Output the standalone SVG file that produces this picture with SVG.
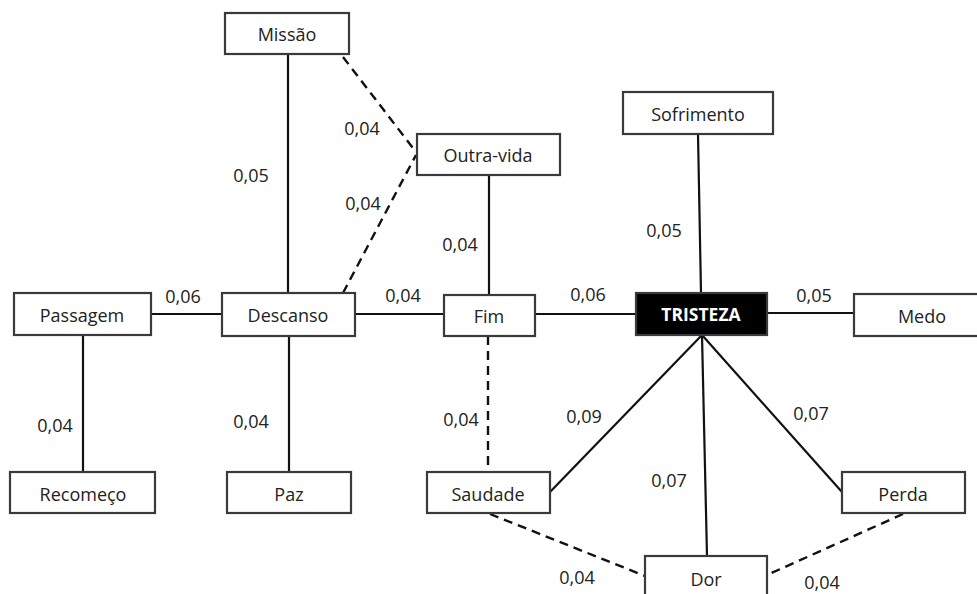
<svg xmlns="http://www.w3.org/2000/svg" width="977" height="594" viewBox="0 0 977 594">
<style>
.box{fill:#fff;stroke:#3a3a3a;stroke-width:2.2}
.dark{fill:#000;stroke:#3a3a3a;stroke-width:2.2}
.t{font-family:"Open Sans","Liberation Sans",sans-serif;font-size:18px;fill:#222;text-anchor:middle;dominant-baseline:central}
.tb{font-family:"Open Sans","Liberation Sans",sans-serif;font-size:17.5px;font-weight:bold;fill:#fff;text-anchor:middle;dominant-baseline:central}
.l{font-family:"Open Sans","Liberation Sans",sans-serif;font-size:18px;fill:#222;text-anchor:middle;dominant-baseline:central}
.s{stroke:#111;stroke-width:2.2;fill:none}
.d{stroke:#111;stroke-width:2.4;fill:none;stroke-dasharray:9 6}
</style>
<rect width="977" height="594" fill="#fff"/>
<g id="connectors">
<line class="s" x1="288" y1="54" x2="288" y2="293"/>
<line class="d" x1="343" y1="57" x2="416" y2="152"/>
<line class="d" x1="343" y1="293" x2="416" y2="155"/>
<line class="s" x1="489" y1="175" x2="489" y2="296"/>
<line class="s" x1="698" y1="134" x2="701" y2="293"/>
<line class="s" x1="151" y1="314" x2="222" y2="314"/>
<line class="s" x1="355" y1="314" x2="444" y2="314"/>
<line class="s" x1="535" y1="314" x2="636" y2="314"/>
<line class="s" x1="767" y1="313" x2="854" y2="313"/>
<line class="s" x1="83" y1="335" x2="83" y2="472"/>
<line class="s" x1="289" y1="336" x2="289" y2="472"/>
<line class="d" x1="488" y1="336" x2="488" y2="472"/>
<line class="s" x1="702" y1="335" x2="550" y2="492"/>
<line class="s" x1="702" y1="335" x2="707" y2="556"/>
<line class="s" x1="702" y1="335" x2="842" y2="492"/>
<line class="d" x1="490" y1="514" x2="645" y2="576"/>
<line class="d" x1="903" y1="514" x2="767" y2="575"/>
</g>
<g id="labels">
<text class="l" x="362" y="128">0,04</text>
<text class="l" x="251" y="175">0,05</text>
<text class="l" x="363" y="203">0,04</text>
<text class="l" x="460" y="244">0,04</text>
<text class="l" x="183" y="296">0,06</text>
<text class="l" x="403" y="295">0,04</text>
<text class="l" x="588" y="294">0,06</text>
<text class="l" x="664" y="230">0,05</text>
<text class="l" x="814" y="295">0,05</text>
<text class="l" x="55" y="425">0,04</text>
<text class="l" x="251" y="421">0,04</text>
<text class="l" x="461" y="419">0,04</text>
<text class="l" x="584" y="416">0,09</text>
<text class="l" x="811" y="413">0,07</text>
<text class="l" x="669" y="480">0,07</text>
<text class="l" x="577" y="577">0,04</text>
<text class="l" x="822" y="582">0,04</text>
</g>
<g id="node-missao"><rect class="box" x="225" y="13" width="124" height="41"/><text class="t" x="287" y="34">Missão</text></g>
<g id="node-outra-vida"><rect class="box" x="417" y="134" width="143" height="41"/><text class="t" x="488" y="155">Outra-vida</text></g>
<g id="node-sofrimento"><rect class="box" x="623" y="92" width="150" height="42"/><text class="t" x="698" y="114">Sofrimento</text></g>
<g id="node-passagem"><rect class="box" x="14" y="293" width="137" height="42"/><text class="t" x="82" y="315">Passagem</text></g>
<g id="node-descanso"><rect class="box" x="222" y="293" width="133" height="43"/><text class="t" x="288" y="315">Descanso</text></g>
<g id="node-fim"><rect class="box" x="444" y="295" width="91" height="41"/><text class="t" x="489" y="316">Fim</text></g>
<g id="node-tristeza"><rect class="dark" x="636" y="293" width="131" height="42"/><text class="tb" x="701" y="314">TRISTEZA</text></g>
<g id="node-medo"><rect class="box" x="854" y="294" width="125" height="42"/><text class="t" x="922" y="316">Medo</text></g>
<g id="node-recomeco"><rect class="box" x="10" y="472" width="145" height="41"/><text class="t" x="83" y="494">Recomeço</text></g>
<g id="node-paz"><rect class="box" x="227" y="472" width="124" height="41"/><text class="t" x="289" y="494">Paz</text></g>
<g id="node-saudade"><rect class="box" x="427" y="472" width="123" height="41"/><text class="t" x="488" y="494">Saudade</text></g>
<g id="node-perda"><rect class="box" x="842" y="472" width="123" height="41"/><text class="t" x="903" y="494">Perda</text></g>
<g id="node-dor"><rect class="box" x="645" y="556" width="122" height="45"/><text class="t" x="706" y="579">Dor</text></g>
</svg>
